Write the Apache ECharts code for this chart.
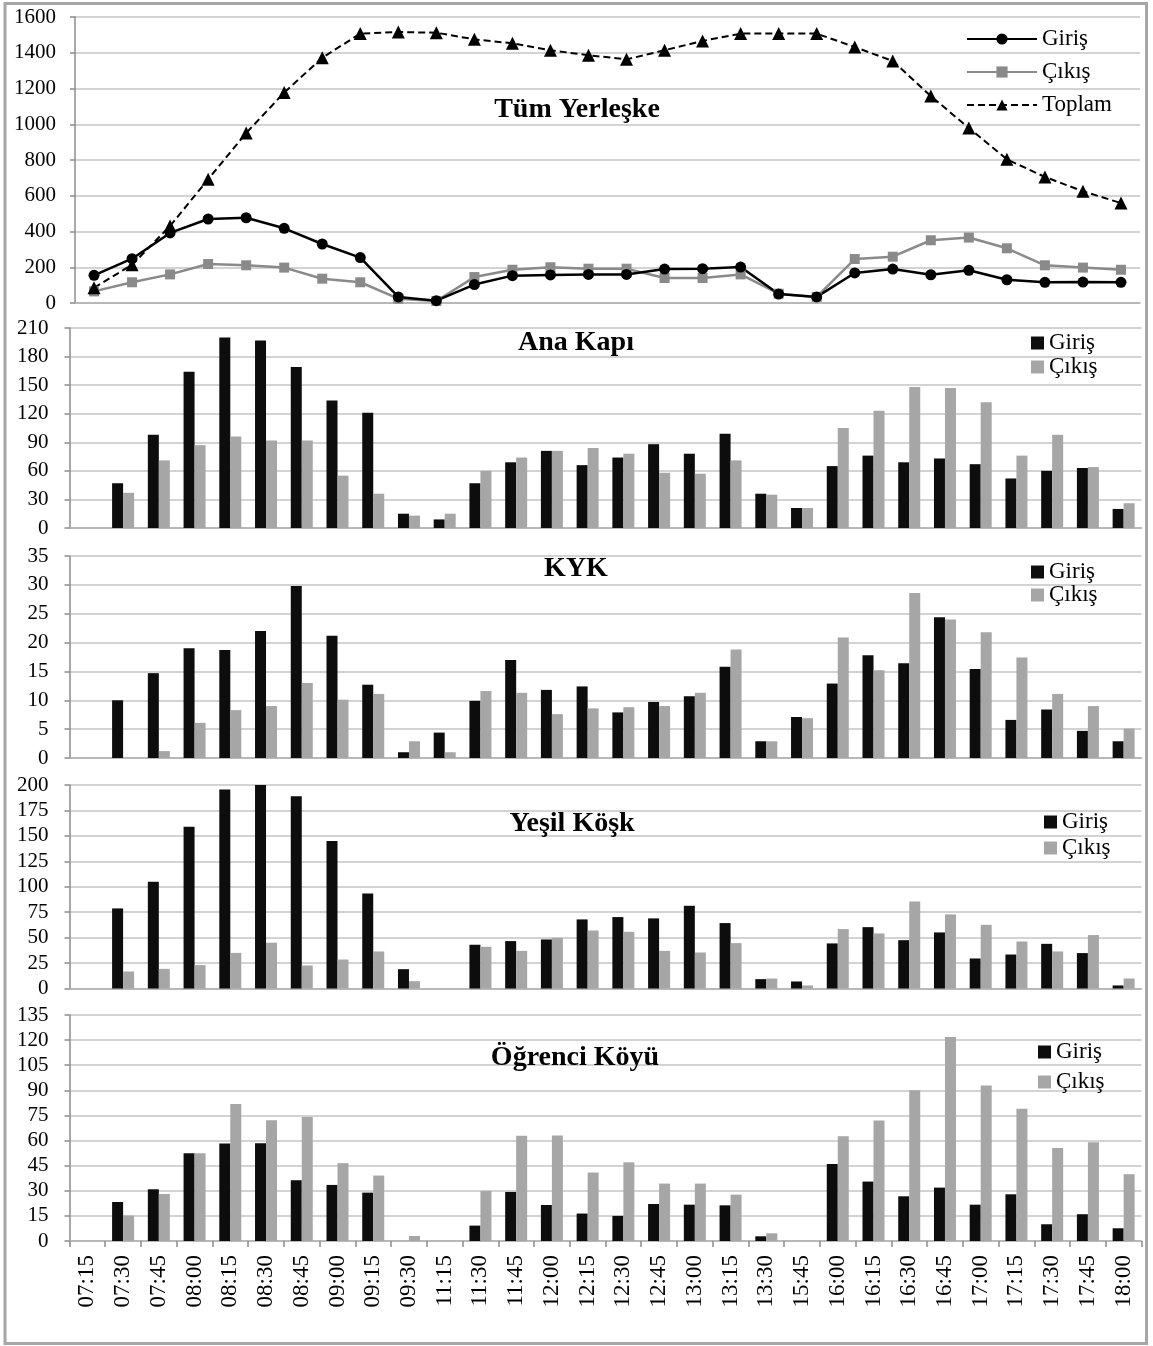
<!DOCTYPE html>
<html><head><meta charset="utf-8">
<script src="https://cdn.jsdelivr.net/npm/echarts@6/dist/echarts.min.js"></script>
<style>html,body{margin:0;padding:0;background:#fff}#c{width:1153px;height:1346px}</style>
</head><body><div id="c"></div>
<script>
// ---------- DATA ----------
const categories = ['07:15','07:30','07:45','08:00','08:15','08:30','08:45','09:00','09:15','09:30','11:15','11:30','11:45','12:00','12:15','12:30','12:45','13:00','13:15','13:30','15:45','16:00','16:15','16:30','16:45','17:00','17:15','17:30','17:45','18:00'];
const campusCategories = ['07:30','07:45','08:00','08:15','08:30','08:45','09:00','09:15','09:30','11:15','11:30','11:45','12:00','12:15','12:30','12:45','13:00','13:15','13:30','15:45','16:00','16:15','16:30','16:45','17:00','17:15','17:30','17:45'];

const campusGiris  = [155,248,392,470,477,418,330,254,34,13,103,153,157,160,160,190,192,201,50,34,168,190,158,183,130,116,117,116];
const campusCikis  = [65,116,160,218,211,198,136,116,24,11,145,186,200,192,192,140,140,160,52,34,246,259,351,366,306,211,198,186];
const campusToplam = [85,214,431,692,951,1177,1372,1507,1516,1512,1475,1453,1414,1386,1363,1414,1466,1507,1507,1507,1432,1354,1158,979,804,705,625,559];

const anaGiris = [null,47,98,164,200,197,169,134,121,15,9,47,69,81,66,74,88,78,99,36,21,65,76,69,73,67,52,60,63,20];
const anaCikis = [null,37,71,87,96,92,92,55,36,13,15,60,74,81,84,78,58,57,71,35,21,105,123,148,147,132,76,98,64,26];

const kykGiris = [null,10,14.7,19,18.7,22,29.8,21.2,12.7,1,4.4,9.9,17,11.8,12.4,7.9,9.7,10.7,15.8,2.9,7.1,12.9,17.8,16.4,24.4,15.4,6.6,8.4,4.7,2.9];
const kykCikis = [null,null,1.2,6.1,8.3,9,13,10.1,11.1,2.9,1,11.6,11.3,7.6,8.6,8.8,9,11.3,18.8,2.9,6.9,20.9,15.2,28.6,24,21.8,17.4,11.1,9,5.1];

const yesilGiris = [null,78.7,105,159,195.7,200,188.9,145,93.4,19,null,43,46.6,48.2,67.9,70.2,68.9,81.3,64.3,9.2,6.9,44.3,60.3,47.5,55.1,29.5,33.4,43.9,34.8,3];
const yesilCikis = [null,16.7,19.3,23,35,45,22.6,28.5,36.4,7.2,null,41,37,49.8,57,55.7,37,35.4,44.6,9.8,3,58.4,54.1,85.6,72.8,62.6,46.2,36.4,52.5,9.8];

const ogrGiris = [null,23.3,30.9,52.4,58.2,58.4,36.3,33.5,28.9,null,null,9.2,29.3,21.5,16.4,15,22.1,21.7,21.3,2.8,null,46,35.5,26.7,31.9,21.7,27.9,10,16,7.6];
const ogrCikis = [null,15.2,28.1,52.4,81.8,72.2,74,46.5,39.1,3,null,29.9,62.8,63,40.9,47,34.3,34.3,27.7,4.6,null,62.6,72,90,121.8,92.9,79,55.6,59,39.9];

const panelTitles = ['Tüm Yerleşke','Ana Kapı','KYK','Yeşil Köşk','Öğrenci Köyü'];
const yMax = [1600,210,35,200,135];
const yStep = [200,30,5,25,15];

// ---------- CHART ----------
const FONT = '"Liberation Serif","Times New Roman",serif';
const BLACK = '#0d0d0d', GREY = '#a6a6a6', LINEGREY = '#8a8a8a';
const ZW = '\u200b';
const barGir = 'Giriş' + ZW, barCik = 'Çıkış' + ZW;

const grids = [
  {left:75, right:13, top:17, height:286},
  {left:69.5, right:11.5, top:328, height:200},
  {left:69.5, right:11.5, top:556, height:202},
  {left:69.5, right:11.5, top:785, height:203.5},
  {left:69.5, right:11.5, top:1015, height:226}
].map(g => Object.assign({outerBoundsMode:'none', containLabel:false}, g));

const xAxes = grids.map((g,i) => ({
  type:'category', gridIndex:i,
  data: i === 0 ? campusCategories : categories,
  boundaryGap:true,
  axisLine:{show:true, lineStyle:{color:'#b0b0b0', width:1.5}},
  axisTick:{show: i===4, length:6, lineStyle:{color:'#8c8c8c', width:1.5}},
  axisLabel:{show: i===4, rotate:90, interval:0, margin:14, fontFamily:FONT, fontSize:23, color:'#000'},
  splitLine:{show:false}
}));

const yAxes = grids.map((g,i) => ({
  type:'value', gridIndex:i, min:0, max:yMax[i], interval:yStep[i],
  axisLine:{show:true, lineStyle:{color:'#8c8c8c', width:1.5}},
  axisTick:{show:true, length:5, lineStyle:{color:'#8c8c8c', width:1.5}},
  axisLabel:{margin: i===0 ? 19 : 21, fontFamily:FONT, fontSize:21, color:'#000', formatter: v => String(v)},
  splitLine:{show:true, lineStyle:{color:'#c4c4c4', width:1.5}}
}));

const barSeries = (idx, gir, cik) => ([
  {type:'bar', name:barGir, xAxisIndex:idx, yAxisIndex:idx, data:gir, barWidth:11, barGap:'0%', itemStyle:{color:BLACK}},
  {type:'bar', name:barCik, xAxisIndex:idx, yAxisIndex:idx, data:cik, barWidth:11, barGap:'0%', itemStyle:{color:GREY}}
]);

const series = [
  {type:'line', name:'Çıkış', xAxisIndex:0, yAxisIndex:0, data:campusCikis, symbol:'rect', symbolSize:10,
   lineStyle:{color:LINEGREY, width:2.5}, itemStyle:{color:LINEGREY}},
  {type:'line', name:'Giriş', xAxisIndex:0, yAxisIndex:0, data:campusGiris, symbol:'circle', symbolSize:11,
   lineStyle:{color:'#000', width:2.5}, itemStyle:{color:'#000'}},
  {type:'line', name:'Toplam', xAxisIndex:0, yAxisIndex:0, data:campusToplam, symbol:'triangle', symbolSize:13,
   lineStyle:{color:'#000', width:2, type:[7,4]}, itemStyle:{color:'#000'}},
  ...barSeries(1, anaGiris, anaCikis),
  ...barSeries(2, kykGiris, kykCikis),
  ...barSeries(3, yesilGiris, yesilCikis),
  ...barSeries(4, ogrGiris, ogrCikis)
];

const strip = n => n.replace(/\u200b/g,'');
const legendBase = {orient:'vertical', padding:0, selectedMode:false, formatter:strip,
  textStyle:{fontFamily:FONT, fontSize:23, lineHeight:23, color:'#000'}};
const legends = [
  Object.assign({}, legendBase, {left:966, top:27.5, itemWidth:70, itemHeight:14, itemGap:10, data:['Giriş','Çıkış','Toplam']}),
  Object.assign({}, legendBase, {left:1031, top:331.5, itemWidth:13, itemHeight:13, itemGap:1, icon:'rect', data:[barGir,barCik]}),
  Object.assign({}, legendBase, {left:1031, top:560.5, itemWidth:13, itemHeight:13, itemGap:0, icon:'rect', data:[barGir,barCik]}),
  Object.assign({}, legendBase, {left:1044, top:810.5, itemWidth:13, itemHeight:13, itemGap:3, icon:'rect', data:[barGir,barCik]}),
  Object.assign({}, legendBase, {left:1038, top:1040.5, itemWidth:13, itemHeight:13, itemGap:7, icon:'rect', data:[barGir,barCik]})
];

const titlePos = [[577,110],[576,343],[576,569],[572,824],[575,1058]];
const graphic = [
  {type:'rect', shape:{x:5, y:3.5, width:1141.5, height:1340}, style:{fill:'none', stroke:'#a6a6a6', lineWidth:3}, z:100},
  ...panelTitles.map((t,i) => ({type:'text', x:titlePos[i][0], y:titlePos[i][1],
    style:{text:t, font:'bold 28px ' + FONT, fill:'#000', textAlign:'center', textVerticalAlign:'middle'}, z:100}))
];

const chart = echarts.init(document.getElementById('c'), null, {renderer:'canvas'});
chart.setOption({
  animation:false,
  backgroundColor:'#fff',
  grid:grids, xAxis:xAxes, yAxis:yAxes, series, legend:legends, graphic
});
</script></body></html>
